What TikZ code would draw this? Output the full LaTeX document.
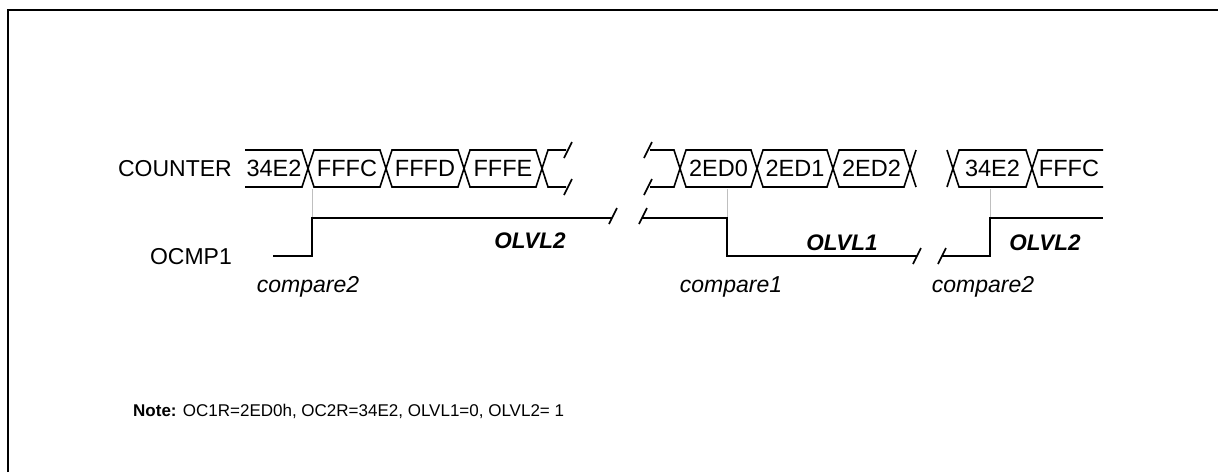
\documentclass[tikz,border=0pt]{standalone}
\usepackage{fontspec}
\setmainfont{Liberation Sans}
\usetikzlibrary{positioning}

\begin{document}
\begin{tikzpicture}[x=1pt,y=-1pt,
    bus/.style={line width=1.6pt},
    sig/.style={line width=2pt},
    brk/.style={line width=1.6pt},
    cmpline/.style={black!25, line width=0.8pt},
    lbl/.style={inner sep=0pt, font=\fontsize{23}{26}\selectfont},
    val/.style={inner sep=0pt, font=\fontsize{23.5}{26}\selectfont},
    lvl/.style={inner sep=0pt, font=\fontsize{22.5}{26}\selectfont\bfseries\itshape},
    cmp/.style={inner sep=0pt, font=\fontsize{23}{26}\selectfont\itshape},
    note/.style={inner sep=0pt, font=\fontsize{17}{20}\selectfont}]
            \useasboundingbox (0,0) rectangle (1218,472);
            % frame
            \draw[line width=2pt] (8,472) -- (8,9.5) -- (1218,9.5);

            % bus levels
            \def\top{150}
            \def\bot{187}
            \def\mid{168.5}
            \def\hi{218}
            \def\lo{256}

            % counter values
            \foreach \a/\b/\v in {308/386/FFFC, 386/464/FFFD, 464/542/FFFE, 680/757/2ED0, 757/833/2ED1, 833/910/2ED2, 953/1032/34E2}
                {\draw[bus] (\a,\mid) -- (\a+6,\top) -- (\b-6,\top) -- (\b,\mid) -- (\b-6,\bot) -- (\a+6,\bot) -- cycle;
                 \node[val] (v\a) at ({(\a+\b)/2},\mid) {\v};}
            \draw[bus] (245,\top) -- (302,\top) -- (308,\mid) -- (302,\bot) -- (245,\bot);
            \node[val] (v245) at (274,\mid) {34E2};
            \draw[bus] (566,\top) -- (548,\top) -- (542,\mid) -- (548,\bot) -- (566,\bot);
            \draw[bus] (650,\top) -- (674,\top) -- (680,\mid) -- (674,\bot) -- (650,\bot);
            \draw[bus] (916,\top) -- (910,\mid) -- (916,\bot);
            \draw[bus] (947,\top) -- (953,\mid) -- (947,\bot);
            \draw[bus] (1103,\top) -- (1038,\top) -- (1032,\mid) -- (1038,\bot) -- (1103,\bot);
            \node[val] (v1032) at (1069,\mid) {FFFC};

            % compare marks
            \foreach \x in {312,727,990}
                {\draw[cmpline] (\x,\bot+2) -- (\x,\hi);}

            % OCMP1 waveform
            \draw[sig] (273,\lo) -- (312,\lo) -- (312,\hi) -- (612,\hi);
            \draw[sig] (642,\hi) -- (727,\hi) -- (727,\lo) -- (917,\lo);
            \draw[sig] (942,\lo) -- (990,\lo) -- (990,\hi) -- (1103,\hi);

            % breaks
            \foreach \x/\y in {568/150, 568/187, 648/150, 648/187, 613/216, 643/216, 917/256, 942/256}
                {\draw[brk] (\x-4,\y+8) -- (\x+4,\y-8);}

            % labels
            \node[lbl, anchor=east] (counter) at (232,\mid) {COUNTER};
            \node[lbl, anchor=east] (ocmp) at (232,257) {OCMP1};
            \node[lvl] (lvl2a) at (530,241) {OLVL2};
            \node[lvl] (lvl1) at (842,243) {OLVL1};
            \node[lvl] (lvl2b) at (1045,243) {OLVL2};
            \node[cmp] (cmp2a) at (308,287) {compare2};
            \node[cmp] (cmp1) at (731,287) {compare1};
            \node[cmp] (cmp2b) at (983,287) {compare2};
            \node[note, anchor=west] (note) at (133,411) {\textbf{Note:} OC1R=2ED0h, OC2R=34E2, OLVL1=0, OLVL2= 1};
\end{tikzpicture}
\end{document}
